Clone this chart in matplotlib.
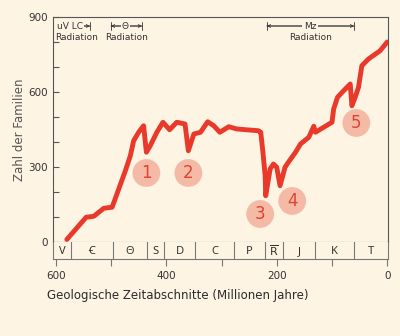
import matplotlib
matplotlib.use('Agg')
import matplotlib.pyplot as plt

# Diversity curve (Ma, number of families)
ma = [580, 545, 531, 513, 498, 486, 474, 465, 459, 450, 441, 436, 429, 417, 406,
      394, 381, 366, 360, 350, 338, 325, 314, 303, 287, 272, 250, 233, 229, 225,
      221, 220, 212, 206, 200, 194, 185, 179, 166, 157, 142, 133, 130, 115, 100,
      97, 90, 79, 67, 64, 58, 52, 46, 34, 13, 0]
families = [10, 99, 103, 135, 139, 212, 285, 345, 405, 439, 465, 359, 385, 439, 479,
            449, 479, 472, 365, 432, 439, 481, 465, 439, 461, 452, 448, 445, 439, 359,
            265, 185, 292, 312, 299, 225, 299, 319, 359, 392, 419, 463, 439, 459, 479,
            532, 579, 605, 632, 545, 579, 619, 705, 732, 765, 800]

# Mass extinction markers
event_labels = ['1', '2', '3', '4', '5']
event_ma = [436, 360, 230, 172, 56]
event_val = [276, 276, 112, 164, 476]

# Geological periods (boundaries in Ma, left to right)
period_bounds = [605, 573, 497, 435, 404, 348, 278, 221, 188, 131, 60, 0]
period_names = ['V', 'Ꞓ', '\u0398', 'S', 'D', 'C', 'P', r'$\overline{\rm R}$',
                'J', 'K', 'T']

# Radiation annotations: (start, end, label, label x)
radiations = [(601, 538, 'uV LC', 575), (500, 444, '\u0398', 474), (218, 60, 'Mz', 140)]

bg = '#fdf4e3'
red = '#e8392b'
frame = '#555555'
txt = '#333333'

fig = plt.figure(figsize=(4, 3.36), dpi=100, facecolor=bg)
ax = fig.add_axes([0.1325, 0.2798, 0.837, 0.6696], facecolor=bg)
band = fig.add_axes([0.1325, 0.2292, 0.837, 0.0506], facecolor=bg, sharex=ax)

ax.plot(ma, families, color=red, lw=3.5, solid_capstyle='round',
        solid_joinstyle='round', zorder=3)

ax.scatter(event_ma, event_val, s=400, color='#f4b4a0', alpha=0.9,
           edgecolors='none', zorder=4)
for lab, x, y in zip(event_labels, event_ma, event_val):
    ax.text(x, y, lab, ha='center', va='center', fontsize=12,
            color='#dc4434', zorder=5)

ax.set_xlim(605, -1)
ax.set_ylim(0, 900)
ax.set_yticks([0, 300, 600, 900])
ax.set_yticks(range(0, 901, 100), minor=True)
ax.tick_params(axis='y', which='both', direction='in', length=4, width=0.8,
               colors=frame, labelcolor=txt, labelsize=7.5)
ax.tick_params(axis='x', which='both', bottom=False, labelbottom=False)
for s in ax.spines.values():
    s.set_color(frame)
    s.set_linewidth(0.8)
ax.set_ylabel('Zahl der Familien', fontsize=8.5, color='#555555', labelpad=2)

for x0, x1, lab, xl in radiations:
    ax.annotate('', xy=(x1, 864), xytext=(x0, 864),
                arrowprops=dict(arrowstyle='|-|', color=txt, lw=0.6,
                                mutation_scale=3, shrinkA=0, shrinkB=0))
    ax.annotate('', xy=(x1, 864), xytext=(x0, 864),
                arrowprops=dict(arrowstyle='<->', color=txt, lw=0.6,
                                mutation_scale=5, shrinkA=0, shrinkB=0))
    ax.text(xl, 864, lab, ha='center', va='center', fontsize=6.5, color=txt,
            bbox=dict(boxstyle='square,pad=0.15', fc=bg, ec='none'))
    ax.text((x0 + x1) / 2 if lab != 'uV LC' else x0, 820, 'Radiation',
            ha='center' if lab != 'uV LC' else 'left', va='center',
            fontsize=6.5, color=txt)

# period band
band.set_ylim(0, 1)
for b in period_bounds[1:-1]:
    band.axvline(b, color='#777777', lw=0.8)
for i, name in enumerate(period_names):
    mid = (period_bounds[i] + period_bounds[i + 1]) / 2
    band.text(mid, 0.45, name, ha='center', va='center', fontsize=8, color=txt,
              family=['Noto Sans', 'DejaVu Sans'])
band.spines['top'].set_visible(False)
for s in ['left', 'right', 'bottom']:
    band.spines[s].set_color('#777777')
    band.spines[s].set_linewidth(0.8)
band.set_yticks([])
band.set_xticks([600, 400, 200, 0])
band.set_xticks([500, 300, 100], minor=True)
band.tick_params(axis='x', which='both', direction='out', length=5, width=0.8,
                 colors='#777777', labelcolor=txt, labelsize=7.5, pad=4)

fig.text(47 / 400, 1 - 296 / 336, 'Geologische Zeitabschnitte (Millionen Jahre)',
         ha='left', va='center', fontsize=8.5, color='#2a2a2a')

fig.savefig('out.png', dpi=100, facecolor=bg)
